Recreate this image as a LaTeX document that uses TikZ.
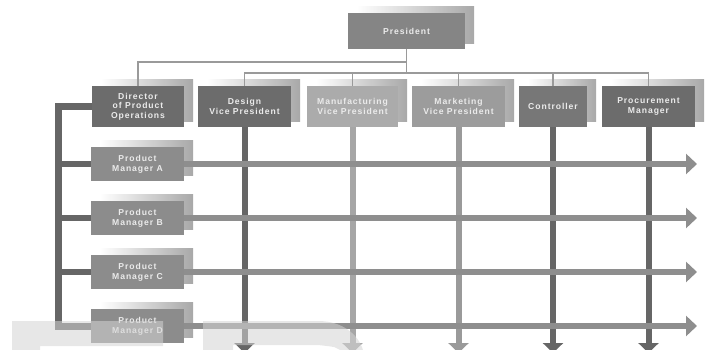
\documentclass[tikz,border=0pt]{standalone}
\usepackage{fontspec}
\setmainfont{Liberation Sans}
\newfontfamily\boxfont[LetterSpace=11]{Liberation Sans}
\usetikzlibrary{arrows.meta}
\pgfdeclarelayer{shadowlayer}
\pgfdeclarelayer{linelayer}
\pgfdeclarelayer{marklayer}
\pgfsetlayers{shadowlayer,linelayer,main,marklayer}
\definecolor{boxdark}{HTML}{6C6C6C}
\definecolor{boxctl}{HTML}{777777}
\definecolor{boxpres}{HTML}{858585}
\definecolor{boxpm}{HTML}{8C8C8C}
\definecolor{boxmkt}{HTML}{9C9C9C}
\definecolor{boxman}{HTML}{ABABAB}
\definecolor{boxtext}{HTML}{EBEBEB}
\definecolor{shadowgray}{HTML}{A8A8A8}
\definecolor{thinline}{HTML}{9A9A9A}
\definecolor{armdark}{HTML}{666666}
\definecolor{armlight}{HTML}{A6A6A6}
\definecolor{armmid}{HTML}{9A9A9A}
\definecolor{hline}{HTML}{8E8E8E}
\definecolor{markgray}{HTML}{D4D4D4}
\tikzset{
  box/.style={draw=none, text=boxtext, font=\boxfont\bfseries\fontsize{8.6}{9.7}\selectfont,
    align=center, inner sep=0pt, minimum height=41pt},
  pmbox/.style={box, fill=boxpm, minimum width=93pt, minimum height=34pt},
  conn/.style={draw=thinline, line width=1.1pt},
  varrow/.style={line width=6pt, -{Triangle[width=20pt,length=10pt]}},
  harrow/.style={draw=hline, line width=6pt, -{Triangle[width=20pt,length=11pt]}},
  lthick/.style={draw=armdark, line width=7pt, line join=miter},
  shadowbox/.style={left color=white, right color=shadowgray},
  wmark/.style={fill=markgray, fill opacity=0.55, draw=none}
}
\begin{document}
\begin{tikzpicture}[x=1pt,y=-1pt]
\useasboundingbox (0,0) rectangle (707,350);
\clip (0,0) rectangle (707,350);
% boxes
\node[box, fill=boxpres, minimum width=117pt, minimum height=36pt] (pres) at (406.5,31) {President};
\node[box, fill=boxdark, minimum width=92pt] (dir) at (138,106.5) {Director\\of Product\\Operations};
\node[box, fill=boxdark, minimum width=93pt] (des) at (244.5,106.5) {Design\\Vice President};
\node[box, fill=boxman, minimum width=91pt] (man) at (352.5,106.5) {Manufacturing\\Vice President};
\node[box, fill=boxmkt, minimum width=93pt] (mkt) at (458.5,106.5) {Marketing\\Vice President};
\node[box, fill=boxctl, minimum width=68pt] (ctl) at (553,106.5) {Controller};
\node[box, fill=boxdark, minimum width=93pt] (proc) at (648.5,106.5) {Procurement\\Manager};
\node[pmbox] (pma) at (137.5,164) {Product\\Manager A};
\node[pmbox] (pmb) at (137.5,218) {Product\\Manager B};
\node[pmbox] (pmc) at (137.5,272) {Product\\Manager C};
\node[pmbox] (pmd) at (137.5,326) {Product\\Manager D};
% helper coordinates
\coordinate (j1) at (406.5,62);
\coordinate (j2) at (406.5,73);
\coordinate (bot) at (0,353);
\coordinate (lx) at (58,0);
\coordinate (rx) at (697,0);
% shadows
\begin{pgfonlayer}{shadowlayer}
\foreach \n in {pres,dir,des,man,mkt,ctl,proc,pma,pmb,pmc,pmd}
  \shade[shadowbox] ([shift={(9,-6)}]\n.south west) rectangle ([shift={(9,-6)}]\n.north east);
\end{pgfonlayer}
% connectors
\begin{pgfonlayer}{linelayer}
\draw[conn] (pres.south) -- (j2);
\draw[conn] (j1) -| (dir.north);
\draw[conn] (des.north) |- (j2) -| (proc.north);
\draw[conn] (man.north) -- (man.north |- j2);
\draw[conn] (mkt.north) -- (mkt.north |- j2);
\draw[conn] (ctl.north) -- (ctl.north |- j2);
% vertical arrows
\draw[varrow, draw=armdark, fill=armdark] (des.south) -- (des.south |- bot);
\draw[varrow, draw=armlight, fill=armlight] (man.south) -- (man.south |- bot);
\draw[varrow, draw=armmid, fill=armmid] (mkt.south) -- (mkt.south |- bot);
\draw[varrow, draw=armdark, fill=armdark] (ctl.south) -- (ctl.south |- bot);
\draw[varrow, draw=armdark, fill=armdark] (proc.south) -- (proc.south |- bot);
% horizontal arrows
\foreach \n in {pma,pmb,pmc,pmd}{
  \draw[harrow, fill=hline] (\n.west -| lx) -- (\n.east -| rx);
  \draw[draw=armdark, line width=6pt] (\n.west -| lx) -- (\n.west);
}
\draw[lthick] (dir.west) -| (pmd.west -| lx) -- (pmd.west);
\end{pgfonlayer}
% faint background lettering
\begin{pgfonlayer}{marklayer}
\fill[wmark] (12,321) -- (163,321) -- (163,346) -- (40,346) -- (40,350) -- (12,350) -- cycle;
\fill[wmark] (203,321) -- (318,321) .. controls (342,321) and (358,334) .. (363,350)
  -- (340,350) .. controls (336,347) .. (318,345) -- (233,345) -- (233,350) -- (203,350) -- cycle;
\end{pgfonlayer}
\end{tikzpicture}
\end{document}
